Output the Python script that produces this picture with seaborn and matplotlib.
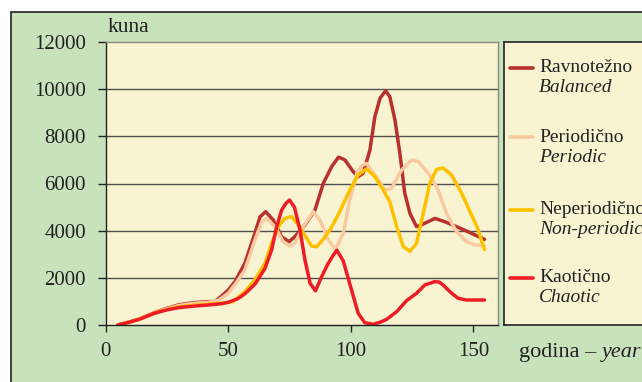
import numpy as np
import pandas as pd
import matplotlib
matplotlib.use("Agg")
import matplotlib.pyplot as plt
from matplotlib.patches import Rectangle
from matplotlib.lines import Line2D
import seaborn as sns

# ---------------- data ----------------
balanced_years = [5, 10, 14, 20, 25, 30, 36, 42, 44.6, 47, 50, 52.8, 56.8, 60.9, 63, 65.3, 68.4, 71.8,
                  74.8, 77.2, 81.3, 85.4, 88.8, 92.2, 95, 97.6, 101, 103, 105, 107.8, 109.8, 111.9,
                  114.2, 115.9, 118, 120, 122, 124.1, 126.8, 129.5, 134.3, 138.3, 143.1, 147.8, 154.5]
balanced_vals = [0, 130, 260, 530, 710, 860, 950, 990, 1000, 1200, 1480, 1840, 2615, 3890, 4590, 4805,
                 4450, 3745, 3530, 3745, 4240, 4875, 6010, 6715, 7120, 7000, 6500, 6290, 6430, 7420,
                 8830, 9610, 9935, 9680, 8690, 7280, 5585, 4735, 4170, 4280, 4520, 4380, 4170, 3955, 3630]

periodic_years = [5, 10, 14, 20, 25, 30, 36, 42, 46, 50, 53, 56.8, 60.9, 63.7, 65.7, 69.1, 72.5, 75.2,
                  77.2, 80.6, 84.7, 87.4, 90.9, 93.8, 96.9, 99.6, 102.4, 104.5, 106.4, 109.8, 113.9,
                  116.6, 120.7, 124.8, 127.5, 132.2, 135.6, 139, 143.1, 147.2, 150, 154.5]
periodic_vals = [0, 130, 260, 520, 690, 830, 920, 960, 1050, 1345, 1750, 2330, 3600, 4380, 4520, 4170,
                 3530, 3350, 3465, 4170, 4805, 4450, 3600, 3200, 3890, 5300, 6430, 6750, 6855, 6360,
                 5725, 5795, 6570, 7000, 6925, 6360, 5725, 4735, 3955, 3530, 3420, 3340]

nonperiodic_years = [5, 10, 14, 20, 25, 30, 36, 42, 47, 52, 56.8, 60.9, 65, 67.7, 70.4, 73.1, 75.8,
                     78.6, 81.3, 84, 86.1, 88.8, 91.5, 95.5, 99.6, 103, 106.4, 109.8, 113.2, 115.9,
                     118.7, 121.4, 124.1, 126.8, 129.5, 132.2, 135, 137.6, 141.1, 145.2, 149.2, 151.5, 154.5]
nonperiodic_vals = [0, 130, 260, 510, 660, 770, 840, 880, 920, 990, 1415, 1910, 2615, 3465, 4170, 4520,
                    4600, 4240, 3800, 3350, 3320, 3640, 4030, 4805, 5725, 6360, 6620, 6290, 5725, 5230,
                    4170, 3320, 3120, 3465, 4735, 6010, 6600, 6660, 6360, 5585, 4665, 4150, 3200]

chaotic_years = [5, 10, 14, 20, 25, 30, 36, 42, 47, 50, 54, 57, 61, 65, 67.7, 69.8, 71.8, 73.5, 75, 77,
                 79.3, 81.3, 83.4, 85.6, 88.1, 90.8, 92.8, 94.3, 96.9, 100.3, 103, 105.7, 109.1, 112,
                 114.6, 118.7, 122.7, 126.8, 130.2, 134.3, 136, 137.6, 141.1, 143.8, 147.2, 154.5]
chaotic_vals = [0, 130, 250, 500, 640, 740, 800, 850, 900, 960, 1120, 1340, 1740, 2400, 3180, 4170,
                4875, 5150, 5300, 5000, 4030, 2760, 1770, 1450, 2050, 2615, 2950, 3170, 2720, 1485, 495,
                100, 30, 120, 240, 565, 1030, 1345, 1700, 1840, 1820, 1700, 1345, 1130, 1060, 1060]

series_hr = ["Ravnotežno", "Periodično", "Neperiodično", "Kaotično"]
series_en = ["Balanced", "Periodic", "Non-periodic", "Chaotic"]
series_colors = ["#b8312f", "#f9c9a0", "#ffc000", "#ee1c25"]
y_ticks = [0, 2000, 4000, 6000, 8000, 10000, 12000]
x_ticks = [0, 50, 100, 150]
y_label = "kuna"
x_label_hr = "godina – "
x_label_en = "year"

# ---------------- style ----------------
sns.set_theme(style="white")
plt.rcParams["font.family"] = ["Liberation Serif", "DejaVu Serif"]

W, H = 642, 382
fig = plt.figure(figsize=(W / 100, H / 100), dpi=100)
fig.patch.set_facecolor("white")

GREEN = "#c8e2bb"
CREAM = "#f8f4d2"

# green frame (extends beyond the right/bottom edges)
fig.patches.append(Rectangle((11 / W, -0.05), 1.1, (H - 12) / H + 0.05, transform=fig.transFigure,
                             facecolor=GREEN, edgecolor="#222222", linewidth=1.2, zorder=-10))

def fx(px):
    return px / W

def fy(py):
    return 1 - py / H

ax = fig.add_axes([fx(105.5), fy(325), fx(498) - fx(105.5), fy(42) - fy(325)])
ax.set_facecolor(CREAM)

frames = []
for name, yrs, vals in zip(series_hr,
                           [balanced_years, periodic_years, nonperiodic_years, chaotic_years],
                           [balanced_vals, periodic_vals, nonperiodic_vals, chaotic_vals]):
    frames.append(pd.DataFrame({"year": yrs, "value": vals, "series": name}))
df = pd.concat(frames, ignore_index=True)

sns.lineplot(data=df, x="year", y="value", hue="series", hue_order=series_hr,
             palette=dict(zip(series_hr, series_colors)), sort=False, estimator=None,
             linewidth=2.5, legend=False, ax=ax)
for ln in ax.lines:
    ln.set_solid_joinstyle("round")
    ln.set_solid_capstyle("round")

ax.set_xlim(0, 160)
ax.set_ylim(0, 12000)
ax.set_xticks(x_ticks)
ax.set_yticks(y_ticks)
ax.set_xticklabels([str(t) for t in x_ticks])
ax.set_yticklabels([str(t) for t in y_ticks])
ax.tick_params(axis="both", which="both", direction="out", labelsize=15, colors="#222222")
ax.tick_params(axis="y", length=6, width=1, pad=8, left=True)
ax.tick_params(axis="x", length=5, width=1, pad=7, bottom=True)
ax.set_xlabel("")
ax.set_ylabel("")
ax.grid(False)
for yv in y_ticks[1:-1]:
    ax.axhline(yv, color="#505050", linewidth=1.0, zorder=0.5)

for side in ["left", "bottom"]:
    ax.spines[side].set_color("#222222")
    ax.spines[side].set_linewidth(1.0)
for side in ["top", "right"]:
    ax.spines[side].set_color("#8a8a80")
    ax.spines[side].set_linewidth(1.0)

fig.text(fx(108), fy(27), y_label, fontsize=15.5, color="#222222", va="center", ha="left")

# x label: regular + italic
t1 = fig.text(fx(519), fy(352), x_label_hr, fontsize=16, color="#222222", va="center", ha="left")
fig.canvas.draw()
bb = t1.get_window_extent()
fig.text(bb.x1 / W, fy(352), x_label_en, fontsize=16, style="italic", color="#222222",
         va="center", ha="left")

# legend box
lax = fig.add_axes([fx(504), fy(325), fx(660) - fx(504), fy(42) - fy(325)])
lax.set_facecolor(CREAM)
lax.set_xlim(504, 660)
lax.set_ylim(325, 42)
lax.set_xticks([])
lax.set_yticks([])
for s in lax.spines.values():
    s.set_color("#222222")
    s.set_linewidth(1.2)

entry_y = [68, 137, 210, 278]
for hr, en, col, yy in zip(series_hr, series_en, series_colors, entry_y):
    lax.add_line(Line2D([510, 533], [yy, yy], color=col, linewidth=2.6))
    lax.text(539, yy, hr, fontsize=14, color="#222222", va="center", ha="left")
    lax.text(539, yy + 20, en, fontsize=14, style="italic", color="#222222", va="center", ha="left")

fig.savefig("out.png", dpi=100, facecolor=fig.get_facecolor())
